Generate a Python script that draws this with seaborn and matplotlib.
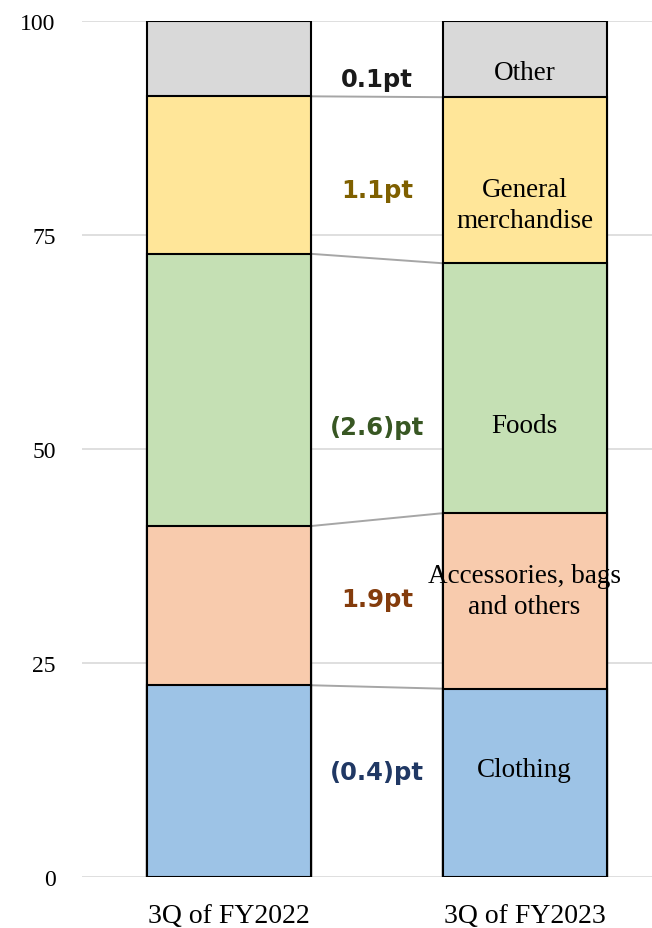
import matplotlib
matplotlib.use("Agg")
import matplotlib.pyplot as plt
import seaborn as sns
import pandas as pd
import numpy as np

periods = ["3Q of FY2022", "3Q of FY2023"]
categories = ["Clothing", "Accessories, bags\nand others", "Foods", "General\nmerchandise", "Other"]
fy2022 = [22.4, 18.6, 31.8, 18.4, 8.8]
fy2023 = [22.0, 20.5, 29.2, 19.4, 8.9]
change_labels = ["(0.4)pt", "1.9pt", "(2.6)pt", "1.1pt", "0.1pt"]
yticks = [0, 25, 50, 75, 100]

colors = ["#9DC3E6", "#F8CBAD", "#C5E0B4", "#FFE699", "#D9D9D9"]
label_colors = ["#203864", "#843C0C", "#385723", "#7F6000", "#1A1A1A"]

sns.set_theme(style="white")
plt.rcParams["font.family"] = ["Liberation Serif", "DejaVu Serif"]

cum22 = np.cumsum(fy2022)
cum23 = np.cumsum(fy2023)

rows = []
for i, cat in enumerate(categories):
    rows.append({"period": periods[0], "category": cat, "cum": cum22[i]})
    rows.append({"period": periods[1], "category": cat, "cum": cum23[i]})
df = pd.DataFrame(rows)

fig = plt.figure(figsize=(6.52, 9.29), dpi=100)
ax = fig.add_axes([82 / 652, 51 / 929, 1 - 82 / 652, (878 - 22) / 929])

width = 0.555
# draw from top (largest cumulative) to bottom so stacked look appears
for i in reversed(range(len(categories))):
    sub = df[df["category"] == categories[i]]
    sns.barplot(data=sub, x="period", y="cum", order=periods, color=colors[i],
                width=width, edgecolor="black", linewidth=1.5, saturation=1,
                ax=ax, zorder=2)

# connector lines
for i in range(len(categories) - 1):
    ax.plot([0 + width / 2, 1 - width / 2], [cum22[i], cum23[i]],
            color="#A6A6A6", lw=1.4, zorder=1.5)

ax.set_xlim(-0.497, 1.431)
ax.set_ylim(0, 100)
ax.set_yticks(yticks)
ax.yaxis.grid(True, color="#D9D9D9", lw=1.2)
ax.set_axisbelow(True)
for s in ax.spines.values():
    s.set_visible(False)
ax.tick_params(axis="y", length=0, pad=19, labelsize=17, labelcolor="black")
ax.tick_params(axis="x", length=0, pad=19, labelsize=20, labelcolor="black")
ax.set_xlabel("")
ax.set_ylabel("")

# change labels between bars
label_y = [12.3, 32.5, 52.6, 80.3, 93.2]
for i, txt in enumerate(change_labels):
    ax.text(0.5, label_y[i], txt, ha="center", va="center", fontsize=17.5,
            fontweight="bold", color=label_colors[i], family="DejaVu Sans", zorder=5)

# category labels inside second bar
cat_y = [12.5, 33.4, 52.7, 78.5, 94.0]
for i, cat in enumerate(categories):
    ax.text(1, cat_y[i], cat, ha="center", va="center", fontsize=19.5,
            color="black", linespacing=1.35, zorder=5)

fig.savefig("out.png", dpi=100)
